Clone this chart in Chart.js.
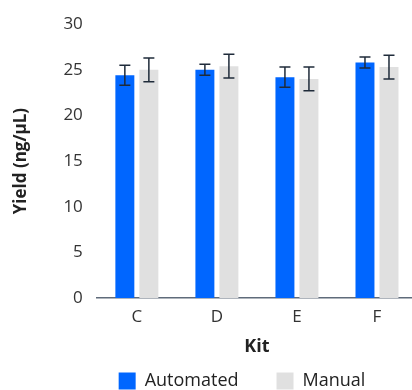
<!DOCTYPE html>
<html>
<head>
<meta charset="utf-8">
<script src="https://cdn.jsdelivr.net/npm/chart.js@4.4.1/dist/chart.umd.min.js"></script>
<style>
  html, body { margin: 0; padding: 0; background: #fff; overflow: hidden; }
  #wrap { position: relative; width: 487px; height: 400px; }
</style>
</head>
<body>
<div id="wrap"><canvas id="yieldChart"></canvas></div>
<script>
// --- Data ---
const kits = ['C', 'D', 'E', 'F'];
const automatedYield = [24.4, 25.0, 24.2, 25.8];
const automatedErr = [1.1, 0.6, 1.1, 0.6];
const manualYield = [25.0, 25.4, 24.0, 25.3];
const manualErr = [1.3, 1.3, 1.3, 1.3];
const yTicks = [0, 5, 10, 15, 20, 25, 30];

const errorLists = [automatedErr, manualErr];

// --- Error bar plugin ---
const errorBars = {
    id: 'errorBars',
    afterDatasetsDraw(chart) {
        const ctx = chart.ctx;
        const yScale = chart.scales.y;
        ctx.save();
        ctx.strokeStyle = '#1f2b3a';
        ctx.lineWidth = 1.5;
        chart.data.datasets.forEach((ds, di) => {
            const meta = chart.getDatasetMeta(di);
            meta.data.forEach((bar, i) => {
                const v = ds.data[i];
                const e = errorLists[di][i];
                const top = yScale.getPixelForValue(v + e);
                const bot = yScale.getPixelForValue(v - e);
                const half = 5.5;
                ctx.beginPath();
                ctx.moveTo(bar.x, top);
                ctx.lineTo(bar.x, bot);
                ctx.moveTo(bar.x - half, top);
                ctx.lineTo(bar.x + half, top);
                ctx.moveTo(bar.x - half, bot);
                ctx.lineTo(bar.x + half, bot);
                ctx.stroke();
            });
        });
        ctx.restore();
    }
};

// nudge the legend to the right so it sits under the plot like the original
const legendShift = {
    id: 'legendShift',
    afterLayout(chart) {
        const lg = chart.legend;
        if (!lg) return;
        lg.left += 28;
        lg.right += 28;
    }
};

const ctx = document.getElementById('yieldChart').getContext('2d');
new Chart(ctx, {
    type: 'bar',
    data: {
        labels: kits,
        datasets: [
            {
                label: 'Automated',
                data: automatedYield,
                backgroundColor: '#0066ff',
                barPercentage: 0.79,
                categoryPercentage: 0.6
            },
            {
                label: 'Manual',
                data: manualYield,
                backgroundColor: '#e0e0e0',
                barPercentage: 0.79,
                categoryPercentage: 0.6
            }
        ]
    },
    options: {
        responsive: true,
        maintainAspectRatio: false,
        animation: false,
        layout: { padding: { top: 11, right: 70, left: 11, bottom: 0 } },
        scales: {
            x: {
                grid: { display: false, drawTicks: false },
                border: { display: true, color: '#5f6b7a', width: 1.5 },
                ticks: { color: '#333', font: { family: "'Open Sans'", size: 17 }, padding: 9 },
                title: {
                    display: true,
                    text: 'Kit',
                    color: '#222',
                    font: { family: "'Open Sans'", size: 18, weight: 'bold' },
                    padding: { top: 0, bottom: -24 }
                }
            },
            y: {
                min: 0,
                max: 30,
                grid: { display: false, drawTicks: false },
                border: { display: false },
                afterBuildTicks: (axis) => { axis.ticks = yTicks.map(v => ({ value: v })); },
                ticks: { color: '#333', font: { family: "'Open Sans'", size: 17 }, padding: 14 },
                title: {
                    display: true,
                    text: 'Yield (ng/µL)',
                    color: '#222',
                    font: { family: "'Open Sans'", size: 17, weight: 'bold' },
                    padding: { top: 0, bottom: 18 }
                }
            }
        },
        plugins: {
            legend: {
                position: 'bottom',
                labels: {
                    boxWidth: 17,
                    boxHeight: 17,
                    color: '#222',
                    padding: 38,
                    font: { family: "'Open Sans'", size: 18 }
                }
            },
            tooltip: { enabled: false }
        }
    },
    plugins: [errorBars, legendShift]
});
</script>
</body>
</html>
